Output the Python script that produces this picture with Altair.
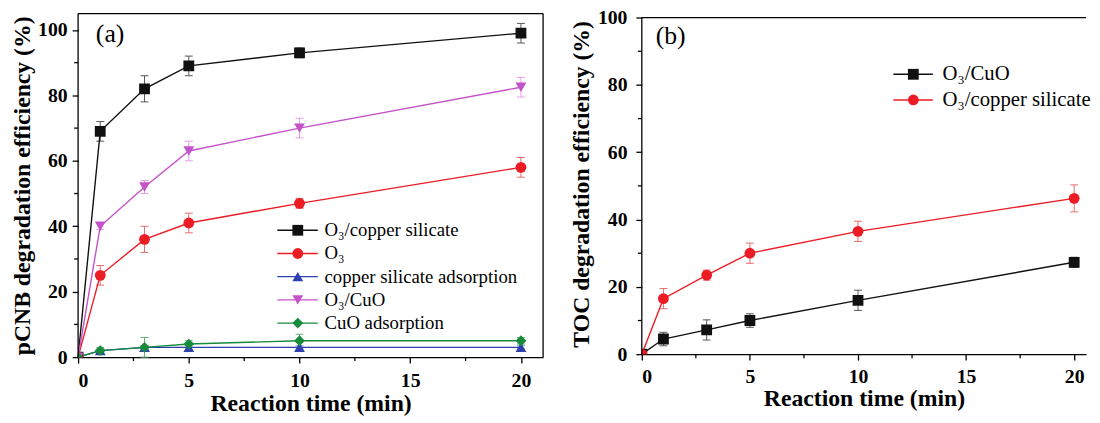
import altair as alt
import pandas as pd

TIME = [0, 1, 3, 5, 10, 20]

# ---- panel (a): pCNB degradation efficiency (%) ----
A_NAMES = ["O₃/copper silicate", "O₃", "copper silicate adsorption", "O₃/CuO", "CuO adsorption"]
A_CU_SIL = [0, 69, 82, 89, 93, 99]
A_CU_SIL_ERR = [0, 3, 4, 3, 1.5, 3]
A_O3 = [0, 25, 36, 41, 47, 58]
A_O3_ERR = [0, 3, 4, 3, 1.5, 3]
A_SIL_ADS = [0, 2, 3, 3, 3, 3]
A_SIL_ADS_ERR = [0, 0.5, 0.5, 1, 0.5, 0.5]
A_CUO = [0, 40, 52, 63, 70, 82.5]
A_CUO_ERR = [0, 1, 2, 3, 3, 3]
A_CUO_ADS = [0, 2, 3, 4, 5, 5]
A_CUO_ADS_ERR = [0, 1, 3, 1, 2, 1]

# ---- panel (b): TOC degradation efficiency (%) ----
B_NAMES = ["O₃/CuO", "O₃/copper silicate"]
B_CUO = [0, 4.5, 7.2, 10, 16, 27.3]
B_CUO_ERR = [0, 2, 3, 2, 3, 1.5]
B_CU_SIL = [0, 16.5, 23.5, 30, 36.5, 46.3]
B_CU_SIL_ERR = [0, 3, 1.5, 3, 3, 4]

X_MAJOR = [0, 5, 10, 15, 20]
X_MINOR = [2.5, 7.5, 12.5, 17.5]
Y_MAJOR = [0, 20, 40, 60, 80, 100]
Y_MINOR = [10, 30, 50, 70, 90]

A_COLORS = ["#111111", "#ec1c24", "#2e3fae", "#c452c8", "#178a3c"]
A_ECOLORS = ["#555555", "#e86a6a", "#8a92cc", "#e59ae6", "#5db36f"]
A_SHAPES = ["square", "circle", "triangle-up", "triangle-down", "diamond"]
B_COLORS = ["#111111", "#ec1c24"]
B_ECOLORS = ["#555555", "#e86a6a"]
B_SHAPES = ["square", "circle"]

SERIF = "Liberation Serif"


def long_df(names, vals, errs):
    rows = []
    for n, v, e in zip(names, vals, errs):
        for t, y, err in zip(TIME, v, e):
            rows.append({"t": t, "v": y, "lo": y - err, "hi": y + err,
                         "err": err, "s": n, "s2": n, "s3": n})
    return pd.DataFrame(rows)


def panel(df, names, colors, ecolors, shapes, W, H, xmax, ymax, ytitle, tag,
          tagx, tagy, leg, xlp, xtp, ylp, ytp, frame_right):
    xs = alt.Scale(domain=[0, xmax], nice=False, zero=False)
    ys = alt.Scale(domain=[0, ymax], nice=False, zero=False)
    common = dict(labelFont=SERIF, titleFont=SERIF, labelFontWeight="bold",
                  titleFontWeight="bold", labelFontSize=20, titleFontSize=24,
                  labelColor="black", titleColor="black", grid=False,
                  tickColor="black", tickWidth=1.3, tickSize=6)
    xax = alt.Axis(values=X_MAJOR, title="Reaction time (min)", labelPadding=xlp,
                   titlePadding=xtp, domainColor="black", domainWidth=1.3, **common)
    yax = alt.Axis(values=Y_MAJOR, title=ytitle, labelPadding=ylp, titlePadding=ytp,
                   domain=False, **common)
    X = alt.X("t:Q", scale=xs, axis=xax)
    Y = alt.Y("v:Q", scale=ys, axis=yax)
    base = alt.Chart(df)
    ebase = base.transform_filter("datum.err > 0")
    ecol = alt.Color("s3:N", scale=alt.Scale(domain=names, range=ecolors), legend=None)

    ebar = ebase.mark_rule(strokeWidth=1).encode(
        x=X, y=alt.Y("lo:Q", scale=ys, axis=yax), y2="hi:Q", color=ecol)
    cap_hi = ebase.mark_rule(strokeWidth=1, xOffset=-4, x2Offset=4).encode(
        x=X, x2="t:Q", y=alt.Y("hi:Q", scale=ys, axis=yax), color=ecol)
    cap_lo = ebase.mark_rule(strokeWidth=1, xOffset=-4, x2Offset=4).encode(
        x=X, x2="t:Q", y=alt.Y("lo:Q", scale=ys, axis=yax), color=ecol)

    # legend: a line symbol drawn as a custom path, and the markers on top of it
    half = leg["len"] / 10.0
    sw = 1.4
    col1 = (100 ** 0.5 + sw) / 2.0
    leg1 = alt.Legend(orient="none", legendX=leg["x"] + leg["len"] / 2 - col1,
                      legendY=leg["y"], title=None,
                      symbolType=f"M-{half},0H{half}", symbolSize=100,
                      symbolStrokeWidth=sw, labelFont=SERIF,
                      labelFontSize=leg["fs"], labelColor="black", labelLimit=400,
                      labelOffset=leg["len"] / 2 - col1 + leg["lo"],
                      rowPadding=leg["rp"], padding=0)
    line = base.mark_line(strokeWidth=1.4).encode(
        x=X, y=Y,
        color=alt.Color("s:N", scale=alt.Scale(domain=names, range=colors), legend=leg1))

    col2 = (120 ** 0.5) / 2.0
    leg2 = alt.Legend(orient="none", legendX=leg["x"] + leg["len"] / 2 - col2,
                      legendY=leg["y"], title=None, symbolSize=120,
                      symbolStrokeWidth=0, labelFont=SERIF, labelLimit=400,
                      labelFontSize=leg["fs"], labelOpacity=0,
                      labelOffset=4, rowPadding=leg["rp"], padding=0)
    pts = base.mark_point(filled=True, opacity=1, size=120, clip=True).encode(
        x=X, y=Y,
        color=alt.Color("s2:N", scale=alt.Scale(domain=names, range=colors), legend=leg2),
        shape=alt.Shape("s2:N", scale=alt.Scale(domain=names, range=shapes), legend=leg2))

    one = pd.DataFrame({"z": [0]})
    rule = dict(color="black", strokeWidth=1.3)
    if frame_right:
        top = alt.Chart(one).mark_rule(**rule).encode(
            x=alt.value(0), x2=alt.value(W), y=alt.value(0))
        left = alt.Chart(one).mark_rule(**rule).encode(
            x=alt.value(0), y=alt.value(0), y2=alt.value(H))
        right = alt.Chart(one).mark_rule(**rule).encode(
            x=alt.value(W), y=alt.value(0), y2=alt.value(H))
        frame = [top, left, right]
    else:
        top = alt.Chart(one).mark_rule(**rule).encode(
            x=alt.value(0), x2=alt.value(W), y=alt.datum(100))
        left = alt.Chart(one).mark_rule(**rule).encode(
            x=alt.value(0), y=alt.datum(0), y2=alt.datum(100))
        frame = [top, left]

    xmin = alt.Chart(pd.DataFrame({"m": X_MINOR})).mark_rule(**rule).encode(
        x=alt.X("m:Q", scale=xs, axis=xax), y=alt.value(H), y2=alt.value(H + 4))
    ymin = alt.Chart(pd.DataFrame({"m": Y_MINOR})).mark_rule(**rule).encode(
        y=alt.Y("m:Q", scale=ys, axis=yax), x=alt.value(0), x2=alt.value(-4))
    label = alt.Chart(pd.DataFrame({"tag": [tag]})).mark_text(
        font=SERIF, fontSize=26, align="left", baseline="middle", color="black").encode(
        text="tag:N", x=alt.value(tagx), y=alt.value(tagy))

    layers = [ebar, cap_hi, cap_lo, line, pts] + frame + [xmin, ymin, label]
    return alt.layer(*layers).resolve_scale(
        color="independent", shape="independent").properties(width=W, height=H)


dfa = long_df(A_NAMES, [A_CU_SIL, A_O3, A_SIL_ADS, A_CUO, A_CUO_ADS],
              [A_CU_SIL_ERR, A_O3_ERR, A_SIL_ADS_ERR, A_CUO_ERR, A_CUO_ADS_ERR])
dfb = long_df(B_NAMES, [B_CUO, B_CU_SIL], [B_CUO_ERR, B_CU_SIL_ERR])

pa = panel(dfa, A_NAMES, A_COLORS, A_ECOLORS, A_SHAPES, 471, 348, 21, 105,
           "pCNB degradation efficiency (%)", "(a)", 18, 21,
           {"x": 198, "y": 210, "len": 41, "fs": 19, "lo": 3, "rp": 3.5},
           8, 1, 5, 3, True)
pb = panel(dfb, B_NAMES, B_COLORS, B_ECOLORS, B_SHAPES, 450, 345, 20.55, 101.2,
           "TOC degradation efficiency (%)", "(b)", 14, 23,
           {"x": 250, "y": 51, "len": 40, "fs": 21, "lo": 5, "rp": 4},
           7, 0, 9, 4, False)

chart = alt.hconcat(pa, pb, spacing=100, bounds="flush").properties(
    padding={"left": 3, "top": -3, "right": 0, "bottom": 0}
).configure_view(stroke=None)

chart.save("out.html", embed_options={"renderer": "svg", "actions": False})
